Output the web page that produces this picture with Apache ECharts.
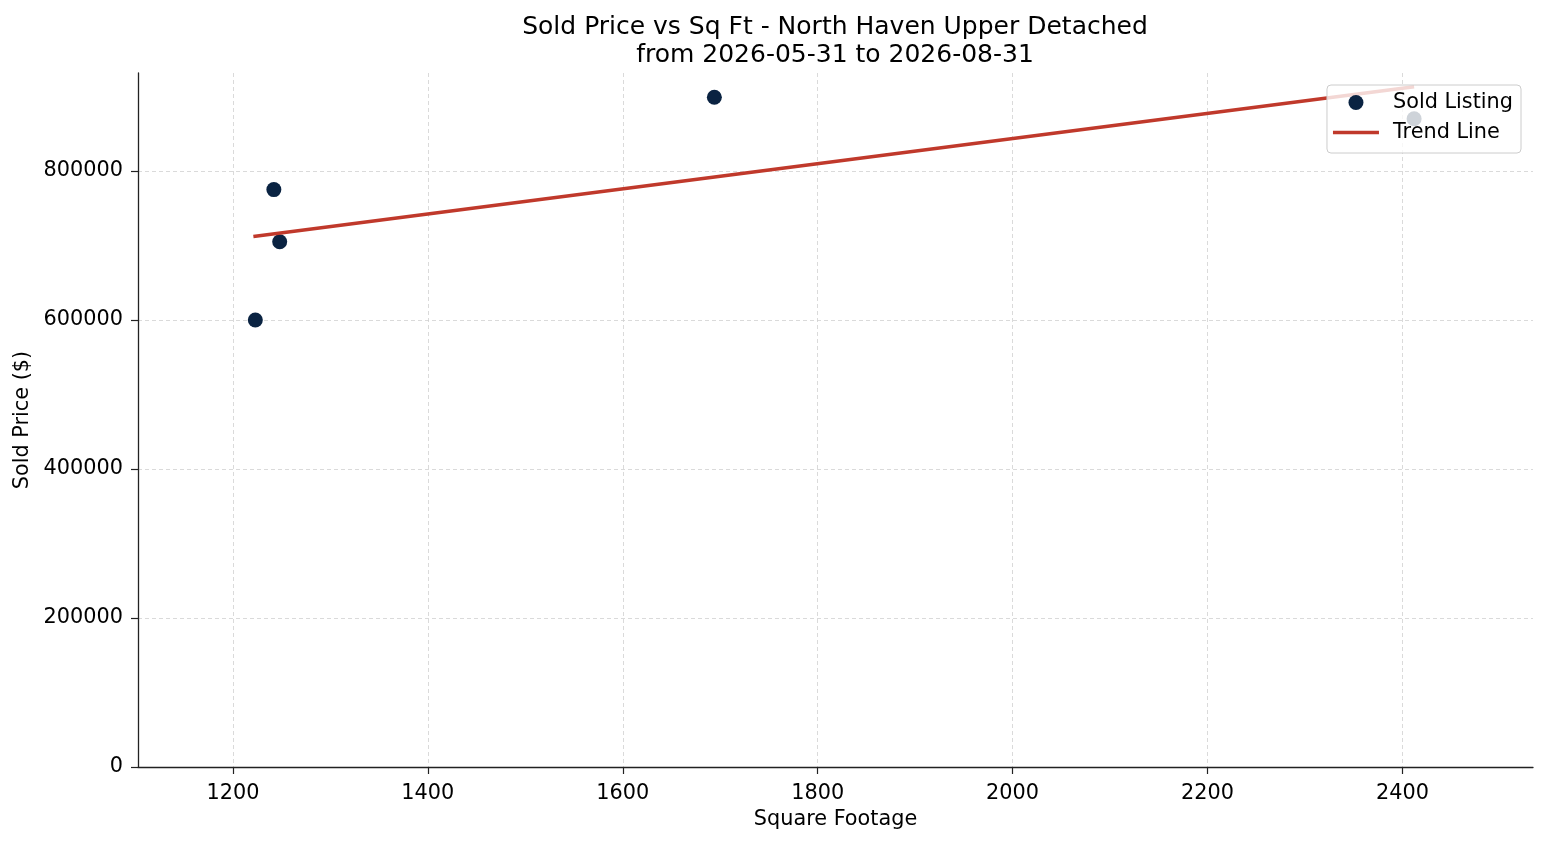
<!DOCTYPE html>
<html>
<head>
<meta charset="utf-8">
<title>Sold Price vs Sq Ft</title>
<script src="https://cdn.jsdelivr.net/npm/echarts@6/dist/echarts.min.js"></script>
<style>
  html, body { margin: 0; padding: 0; background: #fff; }
  #chart { width: 1547px; height: 845px; }
</style>
</head>
<body>
<div id="chart"></div>
<script>
// sold listings
var sqft = [1223, 1242, 1248, 1694, 2412];
var price = [600000, 775000, 705000, 899000, 870000];

// trend line end points
var trendSqft = [1221, 2412];
var trendPrice = [712000, 913000];

var xTicks = [1200, 1400, 1600, 1800, 2000, 2200, 2400];
var yTicks = [0, 200000, 400000, 600000, 800000];

var font = '"DejaVu Sans", sans-serif';

function zip(a, b) {
    var out = [];
    for (var i = 0; i < a.length; i++) {
        out.push([a[i], b[i]]);
    }
    return out;
}

var gridLine = { show: true, lineStyle: { color: '#d0d0d0', type: [4, 3], width: 0.8 } };

var options = {
    animation: false,
    textStyle: { fontFamily: font },
    grid: {
        left: 138,
        right: 14,
        top: 73,
        bottom: 78,
        containLabel: false
    },
    graphic: [
        {
            type: 'text',
            x: 835,
            y: 41,
            style: {
                text: 'Sold Price vs Sq Ft - North Haven Upper Detached\nfrom 2026-05-31 to 2026-08-31',
                fontFamily: font,
                fontSize: 25,
                lineHeight: 28,
                fill: '#000',
                align: 'center',
                verticalAlign: 'middle'
            }
        }
    ],
    legend: {
        orient: 'vertical',
        right: 26,
        top: 85,
        padding: [7, 8, 10, 6],
        itemGap: 9,
        itemWidth: 46,
        itemHeight: 15,
        backgroundColor: 'rgba(255,255,255,0.8)',
        borderColor: '#cccccc',
        borderWidth: 1,
        borderRadius: 4,
        textStyle: { fontFamily: font, fontSize: 20.8, color: '#000', padding: [0, 0, 0, 9] },
        data: [
            { name: 'Sold Listing', icon: 'circle' },
            { name: 'Trend Line', icon: 'path://M0,0 L46,0 L46,3.5 L0,3.5 Z' }
        ]
    },
    xAxis: {
        type: 'value',
        min: 1102.6,
        max: 2534,
        name: 'Square Footage',
        nameLocation: 'middle',
        nameGap: 42,
        nameTextStyle: { fontFamily: font, fontSize: 20.8, color: '#000' },
        axisLine: { show: true, lineStyle: { color: '#222', width: 1.3 } },
        axisTick: { show: true, length: 7, lineStyle: { color: '#222', width: 1.2 }, customValues: xTicks },
        axisLabel: {
            fontFamily: font, fontSize: 20.8, color: '#000', margin: 16,
            customValues: xTicks,
            formatter: function (v) { return String(v); }
        },
        splitLine: gridLine
    },
    yAxis: {
        type: 'value',
        min: 0,
        max: 931500,
        name: 'Sold Price ($)',
        nameLocation: 'middle',
        nameGap: 101,
        nameTextStyle: { fontFamily: font, fontSize: 20.8, color: '#000' },
        axisLine: { show: true, lineStyle: { color: '#222', width: 1.3 } },
        axisTick: { show: true, length: 7, lineStyle: { color: '#222', width: 1.2 }, customValues: yTicks },
        axisLabel: {
            fontFamily: font, fontSize: 20.8, color: '#000', margin: 15,
            customValues: yTicks,
            formatter: function (v) { return String(v); }
        },
        splitLine: gridLine
    },
    series: [
        {
            name: 'Sold Listing',
            type: 'scatter',
            symbolSize: 15,
            itemStyle: { color: '#0a2342', opacity: 1 },
            data: zip(sqft, price)
        },
        {
            name: 'Trend Line',
            type: 'line',
            symbol: 'none',
            lineStyle: { color: '#c0392b', width: 3.5 },
            itemStyle: { color: '#c0392b' },
            data: zip(trendSqft, trendPrice)
        }
    ]
};

var myChart = echarts.init(document.getElementById('chart'));
myChart.setOption(options);
</script>
</body>
</html>
